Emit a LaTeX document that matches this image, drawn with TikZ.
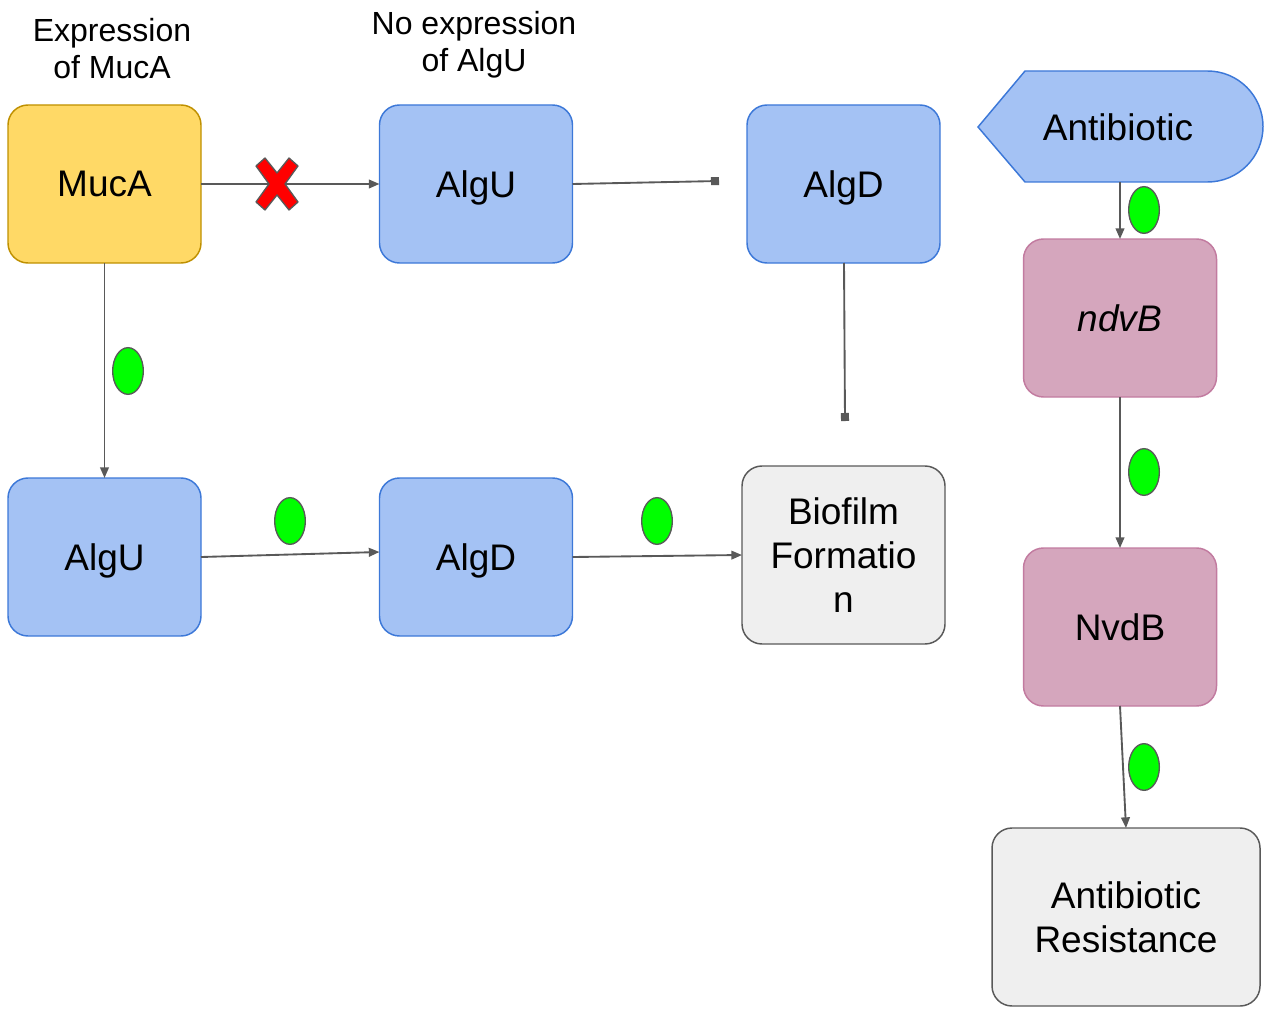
\documentclass[tikz,border=0pt]{standalone}
\usepackage{fontspec}
\setmainfont{Liberation Sans}
\usetikzlibrary{arrows.meta,calc,shapes.geometric}
\definecolor{cblue}{HTML}{A4C2F4}
\definecolor{cblueb}{HTML}{3C78D8}
\definecolor{cyel}{HTML}{FFD966}
\definecolor{cyelb}{HTML}{BF9000}
\definecolor{cpink}{HTML}{D5A6BD}
\definecolor{cpinkb}{HTML}{C27BA0}
\definecolor{cgray}{HTML}{EFEFEF}
\definecolor{cline}{HTML}{595959}
\tikzset{
  box/.style={rounded corners=15pt, line width=1.1pt, inner sep=0pt, outer sep=0pt,
    minimum width=144.75pt, minimum height=118.5pt,
    font=\fontsize{27.75}{33}\selectfont},
  bluebox/.style={box, fill=cblue, draw=cblueb, text depth=0pt},
  yelbox/.style={box, fill=cyel, draw=cyelb, text depth=0pt},
  pinkbox/.style={box, fill=cpink, draw=cpinkb, text depth=0pt},
  graybox/.style={box, fill=cgray, draw=cline, align=center},
  lbl/.style={align=center, font=\fontsize{24}{27.75}\selectfont, inner sep=0pt},
  conn/.style={draw=cline, line width=1.4pt, -{Triangle[length=8pt,width=6.5pt]}},
  sqconn/.style={draw=cline, line width=1.4pt, -{Square[length=6pt,width=6pt]}},
  dot/.style={ellipse, fill=green, draw=cline, line width=1pt, minimum width=23pt, minimum height=35pt, inner sep=0pt}
}
\begin{document}
\begin{tikzpicture}[x=0.75pt,y=-0.75pt]
\useasboundingbox (0,0) rectangle (1269,1009);
% labels
\node[lbl] (l1) at (112,49) {Expression\\of MucA};
\node[lbl] (l2) at (474,45) {No expression\\of AlgU};
% boxes
\node[yelbox] (muca) at (104.5,184) {MucA};
\node[bluebox] (algu1) at (476,184) {AlgU};
\node[bluebox] (algd1) at (843.5,184) {AlgD};
\node[bluebox] (algu2) at (104.5,557) {AlgU};
\node[bluebox] (algd2) at (476,557) {AlgD};
\node[graybox, minimum width=152.25pt, minimum height=133.5pt] (bio) at (843.5,555) {Biofilm\\Formatio\\n};
\node[pinkbox] (ndvb) at (1120,318) {\itshape ndvB};
\node[pinkbox] (nvdb) at (1120,627) {NvdB};
\node[graybox, minimum width=201pt, minimum height=133.5pt] (res) at (1126,917) {Antibiotic\\Resistance};
% antibiotic shape
\draw[fill=cblue, draw=cblueb, line width=1.1pt]
  (978,127) -- (1025,71) -- (1207.5,71) arc[start angle=-90, end angle=90, radius=55.5] -- (1025,182) -- cycle;
\node[font=\fontsize{27.75}{33}\selectfont, inner sep=0pt] (ab) at (1118,127) {Antibiotic};
\coordinate (abot) at (1120,182);
% square-end coordinates
\coordinate (sq1) at (719,181);
\coordinate (sq2) at (845,421);
% connectors
\draw[conn] (muca.east) -- (algu1.west);
\draw[sqconn] (algu1.east) -- (sq1);
\draw[sqconn] ($(algd1.south)+(0.5,0)$) -- (sq2);
\draw[conn] (muca.south) -- (algu2.north);
\draw[conn] (algu2.east) -- ($(algd2.west)+(0,-5)$);
\draw[conn] (algd2.east) -- (bio.west);
\draw[conn] (abot) -- (ndvb.north);
\draw[conn] (ndvb.south) -- (nvdb.north);
\draw[conn] (nvdb.south) -- (res.north);
% red X
\draw[fill=red, draw=cline, line width=1pt, line join=round]
  (256,166) -- (265,158) -- (277,173) -- (289,158) -- (298,166) -- (285,184) -- (298,202) -- (289,210) -- (277,195) -- (265,210) -- (256,202) -- (269,184) -- cycle;
% green dots
\node[dot] (g1) at (128,371) {};
\node[dot] (g2) at (290,521) {};
\node[dot] (g3) at (657,521) {};
\node[dot] (g4) at (1144,210) {};
\node[dot] (g5) at (1144,472) {};
\node[dot] (g6) at (1144,767) {};
\end{tikzpicture}
\end{document}
